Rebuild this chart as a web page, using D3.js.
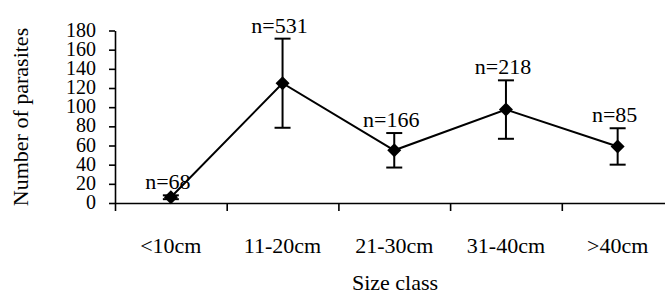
<!DOCTYPE html>
<html><head><meta charset="utf-8"><script src="https://cdn.jsdelivr.net/npm/d3@7"></script></head>
<body style="margin:0">
<script>
// Data
var sizeClasses = ['<10cm', '11-20cm', '21-30cm', '31-40cm', '>40cm'];
var meanParasites = [6, 125, 55, 97.5, 59];
var errParasites = [2, 46.5, 18, 30.5, 19];
var sampleSizes = [68, 531, 166, 218, 85];
var yTicks = [0, 20, 40, 60, 80, 100, 120, 140, 160, 180];

function fontFor(size) {
    return function() { return size + "px 'Liberation Serif'"; };
}

//Dimension and Margin
var margin = { top: 30.5, right: -8.5, bottom: 91, left: 115 },
    width = 665 - margin.left - margin.right,
    height = 294 - margin.top - margin.bottom;

var root = d3.select('body').append('svg')
    .attr('width', 665)
    .attr('height', 294);

// category boundaries 0..5, points sit at i + 0.5
var xScale = d3.scaleLinear()
    .domain([0, sizeClasses.length])
    .range([margin.left, margin.left + width]);

var yScale = d3.scaleLinear()
    .domain([0, 180])
    .range([margin.top + height, margin.top]);

//Y-Axis
var yAxis = root.append('g')
    .attr('transform', 'translate(' + margin.left + ',0)')
    .call(d3.axisLeft(yScale)
        .tickValues(yTicks)
        .tickSize(6)
        .tickSizeOuter(0)
        .tickFormat(''));
yAxis.selectAll('line, path')
    .attr('stroke', '#000')
    .attr('stroke-width', 1.6);

root.selectAll('.ylabel')
    .data(yTicks)
    .enter().append('text')
    .attr('class', 'ylabel')
    .attr('x', margin.left - 19)
    .attr('y', function(d) { return yScale(d) + 6; })
    .attr('text-anchor', 'end')
    .attr('font-family', 'Liberation Serif')
    .style('font', fontFor(20))
    .text(function(d) { return d; });

root.append('text')
    .attr('transform', 'translate(28,117) rotate(-90)')
    .attr('text-anchor', 'middle')
    .attr('font-family', 'Liberation Serif')
    .style('font', fontFor(22))
    .text('Number of parasites');

//X-Axis
var xAxis = root.append('g')
    .attr('transform', 'translate(0,' + (margin.top + height) + ')')
    .call(d3.axisBottom(xScale)
        .tickValues(d3.range(sizeClasses.length + 1))
        .tickSize(8)
        .tickSizeOuter(0)
        .tickFormat(''));
xAxis.selectAll('line, path')
    .attr('stroke', '#000')
    .attr('stroke-width', 1.6);

root.selectAll('.catlabel')
    .data(sizeClasses)
    .enter().append('text')
    .attr('class', 'catlabel')
    .attr('x', function(d, i) { return xScale(i + 0.5); })
    .attr('y', margin.top + height + 50)
    .attr('text-anchor', 'middle')
    .attr('font-family', 'Liberation Serif')
    .style('font', fontFor(22))
    .text(function(d) { return d; });

root.append('text')
    .attr('x', 395)
    .attr('y', margin.top + height + 87)
    .attr('text-anchor', 'middle')
    .attr('font-family', 'Liberation Serif')
    .style('font', fontFor(22))
    .text('Size class');

// Line
var line = d3.line()
    .x(function(d, i) { return xScale(i + 0.5); })
    .y(function(d) { return yScale(d); });

root.append('path')
    .datum(meanParasites)
    .attr('d', line)
    .attr('fill', 'none')
    .attr('stroke', '#000')
    .attr('stroke-width', 2);

// Error bars
var bars = root.selectAll('.err')
    .data(meanParasites)
    .enter().append('g')
    .attr('class', 'err')
    .attr('stroke', '#000')
    .attr('stroke-width', 2);

bars.append('line')
    .attr('x1', function(d, i) { return xScale(i + 0.5); })
    .attr('x2', function(d, i) { return xScale(i + 0.5); })
    .attr('y1', function(d, i) { return yScale(d - errParasites[i]); })
    .attr('y2', function(d, i) { return yScale(d + errParasites[i]); });

bars.append('line')
    .attr('x1', function(d, i) { return xScale(i + 0.5) - 8; })
    .attr('x2', function(d, i) { return xScale(i + 0.5) + 8; })
    .attr('y1', function(d, i) { return yScale(d + errParasites[i]); })
    .attr('y2', function(d, i) { return yScale(d + errParasites[i]); });

bars.append('line')
    .attr('x1', function(d, i) { return xScale(i + 0.5) - 8; })
    .attr('x2', function(d, i) { return xScale(i + 0.5) + 8; })
    .attr('y1', function(d, i) { return yScale(d - errParasites[i]); })
    .attr('y2', function(d, i) { return yScale(d - errParasites[i]); });

// Diamond markers
root.selectAll('.marker')
    .data(meanParasites)
    .enter().append('path')
    .attr('class', 'marker')
    .attr('d', d3.symbol(d3.symbolSquare, 98))
    .attr('transform', function(d, i) {
        return 'translate(' + xScale(i + 0.5) + ',' + yScale(d) + ') rotate(45)';
    })
    .attr('fill', '#000');

// n labels
root.selectAll('.nlabel')
    .data(sampleSizes)
    .enter().append('text')
    .attr('class', 'nlabel')
    .attr('x', function(d, i) { return xScale(i + 0.5) - 3; })
    .attr('y', function(d, i) { return yScale(meanParasites[i] + errParasites[i]) - 6; })
    .attr('text-anchor', 'middle')
    .attr('font-family', 'Liberation Serif')
    .style('font', fontFor(22))
    .text(function(d) { return 'n=' + d; });
</script>
</body>
</html>
